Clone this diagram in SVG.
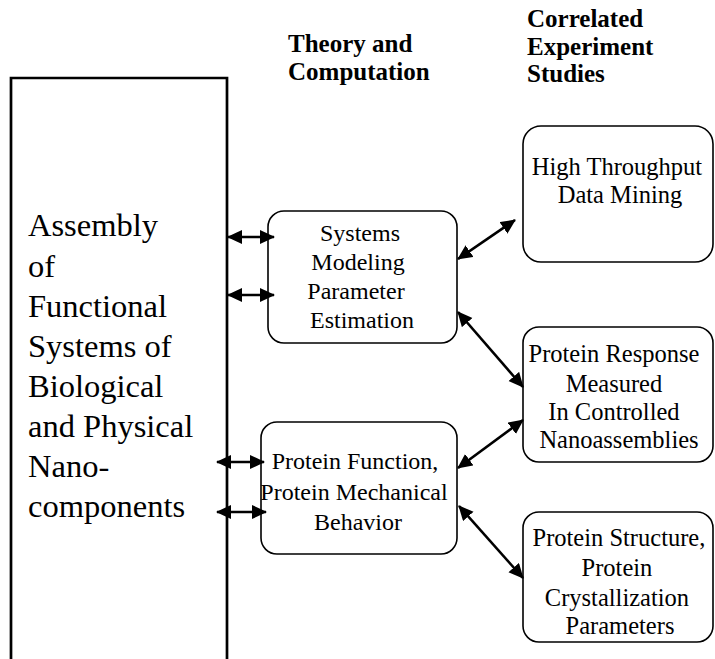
<svg xmlns="http://www.w3.org/2000/svg" width="715" height="659" viewBox="0 0 715 659">
<style>
.t{font-family:'Liberation Serif','Times New Roman',Tinos,'DejaVu Serif',serif;fill:#000}
.h{font-family:'Liberation Serif','Times New Roman',Tinos,'DejaVu Serif',serif;font-weight:bold;font-size:25px;fill:#000}
.box{fill:#fff;stroke:#000;stroke-width:1.6}
.c{stroke:#000;stroke-width:2.6;fill:none;marker-start:url(#ah);marker-end:url(#ah)}
</style>
<defs>
<marker id="ah" markerUnits="userSpaceOnUse" markerWidth="16" markerHeight="16" refX="14" refY="7" orient="auto-start-reverse" viewBox="0 0 16 16">
<path d="M0,0 L15,7 L0,14 z" fill="#000"/>
</marker>
</defs>
<rect width="715" height="659" fill="#fff"/>
<g id="headers">
<text class="h" x="288" y="52">Theory and</text>
<text class="h" x="288" y="80">Computation</text>
<text class="h" x="527" y="27">Correlated</text>
<text class="h" x="527" y="55">Experiment</text>
<text class="h" x="527" y="82">Studies</text>
</g>
<g id="assembly">
<path d="M11,680 V78 H227 V680" fill="none" stroke="#000" stroke-width="2.7"/>
<text class="t" font-size="32.5" x="28">
<tspan x="28" y="236">Assembly</tspan>
<tspan x="28" y="277">of</tspan>
<tspan x="28" y="317">Functional</tspan>
<tspan x="28" y="357">Systems of</tspan>
<tspan x="28" y="397">Biological</tspan>
<tspan x="28" y="437">and Physical</tspan>
<tspan x="28" y="477">Nano-</tspan>
<tspan x="28" y="517">components</tspan>
</text>
</g>
<g id="systems">
<rect class="box" x="268" y="211" width="189" height="132" rx="16"/>
<text class="t" font-size="24" text-anchor="middle">
<tspan x="363" y="241">Systems</tspan>
<tspan x="361" y="270">Modeling</tspan>
<tspan x="359" y="299">Parameter</tspan>
<tspan x="362" y="328">Estimation</tspan>
</text>
</g>
<g id="function">
<rect class="box" x="261" y="422" width="196" height="132" rx="16"/>
<text class="t" font-size="24" text-anchor="middle">
<tspan x="358" y="469">Protein Function,</tspan>
<tspan x="357" y="500">Protein Mechanical</tspan>
<tspan x="358" y="530">Behavior</tspan>
</text>
</g>
<g id="mining">
<rect class="box" x="523" y="126" width="190" height="136" rx="18"/>
<text class="t" font-size="24.5" text-anchor="middle">
<tspan x="620" y="175">High Throughput</tspan>
<tspan x="620" y="203">Data Mining</tspan>
</text>
</g>
<g id="response">
<rect class="box" x="523" y="327" width="190" height="135" rx="16"/>
<text class="t" font-size="24.5" text-anchor="middle">
<tspan x="617" y="362">Protein Response</tspan>
<tspan x="617" y="392">Measured</tspan>
<tspan x="617" y="420">In Controlled</tspan>
<tspan x="619" y="448">Nanoassemblies</tspan>
</text>
</g>
<g id="structure">
<rect class="box" x="523" y="512" width="190" height="130" rx="16"/>
<text class="t" font-size="24.5" text-anchor="middle">
<tspan x="622" y="546">Protein Structure,</tspan>
<tspan x="620" y="576">Protein</tspan>
<tspan x="620" y="606">Crystallization</tspan>
<tspan x="620" y="634">Parameters</tspan>
</text>
</g>
<g id="connectors">
<line class="c" x1="228" y1="237" x2="274" y2="237"/>
<line class="c" x1="228" y1="295" x2="274" y2="295"/>
<line class="c" x1="217" y1="462" x2="264" y2="462"/>
<line class="c" x1="217" y1="512" x2="266" y2="512" stroke-width="4"/>
<line class="c" x1="458" y1="259" x2="515" y2="220"/>
<line class="c" x1="458" y1="312" x2="523" y2="387"/>
<line class="c" x1="458" y1="468" x2="523" y2="420"/>
<line class="c" x1="459" y1="506" x2="523" y2="578"/>
</g>
</svg>
